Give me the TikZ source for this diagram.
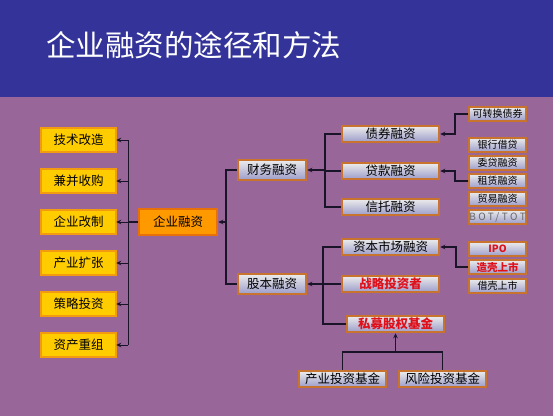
\documentclass[tikz,border=0pt]{standalone}
\usepackage{fontspec}
\newfontfamily\cjk{Noto Sans CJK SC}
\usetikzlibrary{arrows.meta}

\definecolor{bandblue}{HTML}{333399}
\definecolor{slidepurple}{HTML}{996699}
\definecolor{goldfill}{HTML}{FFCC00}
\definecolor{goldedge}{HTML}{F29A10}
\definecolor{corefill}{HTML}{FF9900}
\definecolor{coreedge}{HTML}{E8700A}
\definecolor{boxedge}{HTML}{C8742E}
\definecolor{linkdark}{HTML}{1A1428}
\definecolor{hotred}{HTML}{E0101A}

\begin{document}
\begin{tikzpicture}[x=1pt, y=-1pt,
    every node/.style={align=center, inner sep=0pt, font=\cjk\fontsize{12.5}{14}\selectfont},
    usebox/.style={draw=goldedge, line width=2.5pt, fill=goldfill, minimum width=75pt, minimum height=24pt},
    corebox/.style={draw=coreedge, line width=2.5pt, fill=corefill, minimum width=78pt, minimum height=26pt},
    waybox/.style={draw=boxedge, line width=2.5pt, top color=white!85!gray, middle color=blue!22!white, bottom color=gray!70!blue!60,
        minimum width=68pt, minimum height=20pt},
    subbox/.style={waybox, minimum width=97pt, minimum height=16pt},
    tinybox/.style={waybox, line width=2pt, minimum width=57pt, minimum height=14pt, font=\cjk\fontsize{10}{11}\selectfont},
    hot/.style={text=hotred, font=\cjk\bfseries\fontsize{12.5}{14}\selectfont},
    link/.style={draw=linkdark, line width=1.2pt},
    tolink/.style={link, -{Stealth[length=5pt, width=4.5pt]}}]

    % background and title band
    \fill[slidepurple] (0,0) rectangle (553,416);
    \fill[bandblue] (0,0) rectangle (553,97);
    \node[anchor=west, text=white, font=\cjk\fontsize{29.5}{31}\selectfont] (title) at (46,45) {企业融资的途径和方法};

    % uses of financing
    \node[usebox] (jishu) at (78.5,140) {技术改造};
    \node[usebox] (jianbing) at (78.5,181) {兼并收购};
    \node[usebox] (gaizhi) at (78.5,222) {企业改制};
    \node[usebox] (kuozhang) at (78.5,263) {产业扩张};
    \node[usebox] (celue) at (78.5,304) {策略投资};
    \node[usebox] (chongzu) at (78.5,345) {资产重组};

    \node[corebox] (rongzi) at (178,222) {企业融资};

    % two main ways
    \node[waybox] (caiwu) at (272,170) {财务融资};
    \node[waybox] (guben) at (272,284) {股本融资};

    \node[subbox] (zhaiquan) at (390.5,134) {债券融资};
    \node[subbox] (daikuan) at (390.5,171) {贷款融资};
    \node[subbox] (xintuo) at (390.5,207) {信托融资};
    \node[subbox] (ziben) at (390.5,247) {资本市场融资};
    \node[subbox, hot] (zhanlue) at (390.5,284) {战略投资者};
    \node[subbox, hot] (simu) at (395.5,324) {私募股权基金};

    \node[tinybox] (kezhuan) at (497.5,114) {可转换债券};
    \node[tinybox] (yinhang) at (497.5,145) {银行借贷};
    \node[tinybox] (weidai) at (497.5,163) {委贷融资};
    \node[tinybox] (zulin) at (497.5,181) {租赁融资};
    \node[tinybox] (maoyi) at (497.5,199) {贸易融资};
    \node[tinybox, text=gray!80!black] (bot) at (497.5,217) {\addfontfeature{LetterSpace=25}BOT/TOT};
    \node[tinybox, text=hotred, font=\cjk\bfseries\fontsize{10}{11}\selectfont] (ipo) at (497.5,249) {IPO};
    \node[tinybox, text=hotred, font=\cjk\bfseries\fontsize{10.5}{11}\selectfont] (zaoke) at (497.5,267) {造壳上市};
    \node[tinybox] (jieke) at (497.5,286) {借壳上市};

    \node[subbox, minimum width=87pt] (chanye) at (342.5,379) {产业投资基金};
    \node[subbox, minimum width=87pt] (fengxian) at (442.5,379) {风险投资基金};

    % connectors on the left
    \coordinate (lt) at (128,222);
    \draw[link, line width=0.8pt] (lt |- jishu) -- (lt |- chongzu);
    \draw[link] (rongzi.west) -- (lt);
    \foreach \n in {jishu,jianbing,gaizhi,kuozhang,celue,chongzu}
        \draw[tolink, line width=0.8pt] (lt |- \n.east) -- ([xshift=-1pt]\n.east);

    % connectors on the right
    \coordinate (mt) at (226,222);
    \draw[link] (caiwu.west) -| (mt) |- (guben.west);
    \draw[tolink] (mt) -- (rongzi.east);

    \coordinate (ct) at (325,170);
    \draw[link] (zhaiquan.west) -| (ct) |- (xintuo.west);
    \draw[link] (daikuan.west) -- (daikuan.west -| ct);
    \draw[tolink] (ct) -- (caiwu.east);

    \draw[tolink] (kezhuan.west) -- ++(-13,0) |- (zhaiquan.east);
    \draw[tolink] (zulin.west) -- ++(-13,0) |- (daikuan.east);
    \draw[tolink] (zaoke.west) -- ++(-12,0) |- (ziben.east);

    \coordinate (gt) at (323,284);
    \draw[link] (ziben.west) -| (gt) |- (simu.west);
    \draw[tolink] (zhanlue.west) -- (guben.east);

    \coordinate (jt) at (395.5,352);
    \draw[link] (chanye.north) |- (jt) -| (fengxian.north);
    \draw[tolink] (jt) -- (simu.south);
\end{tikzpicture}
\end{document}
